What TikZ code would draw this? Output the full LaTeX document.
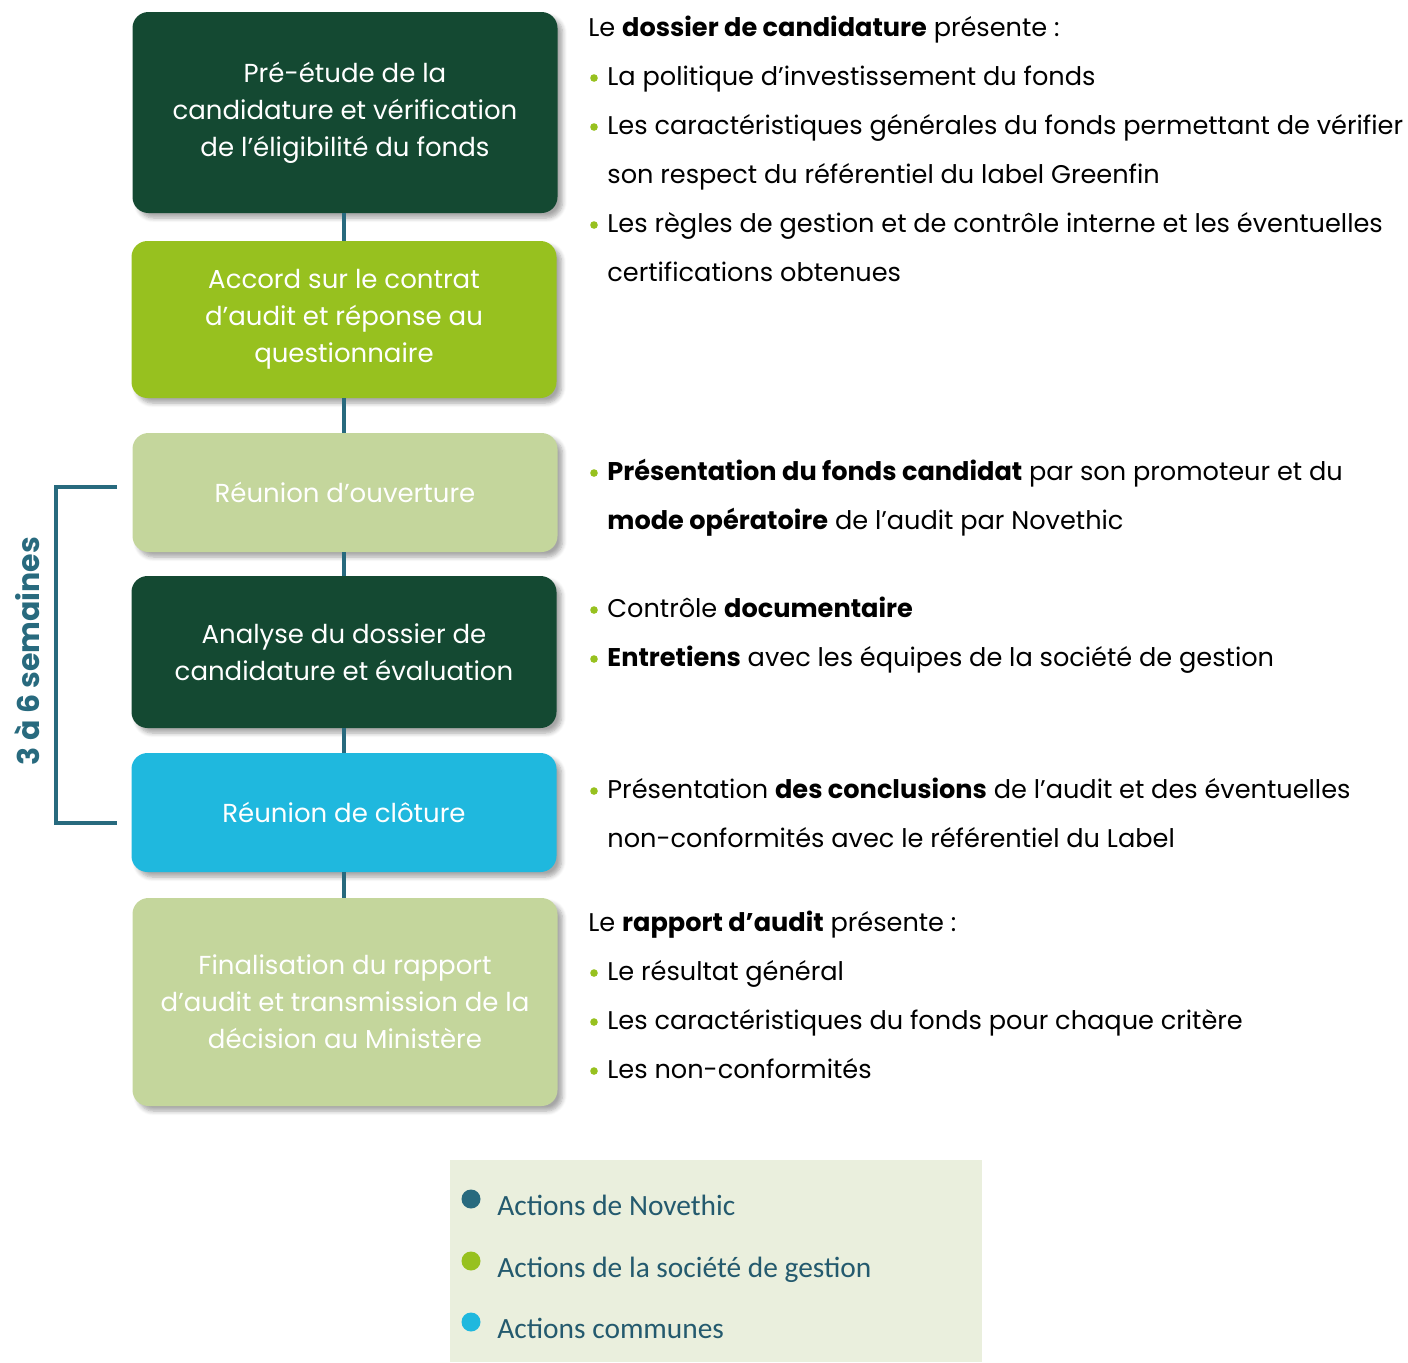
\documentclass[tikz,border=0pt]{standalone}
\usepackage{fontspec}
\setmainfont{Poppins}
\newfontfamily\legfont{Carlito}
\usetikzlibrary{shadows.blur}
\definecolor{dkgreen}{HTML}{144932}
\definecolor{ltgreen}{HTML}{97C11F}
\definecolor{pale}{HTML}{C4D69C}
\definecolor{cyanbox}{HTML}{1FB8DE}
\definecolor{teal}{HTML}{286A7E}
\definecolor{legbg}{HTML}{EAEFDD}
\definecolor{legtxt}{HTML}{245A6E}
\tikzset{
  stepbox/.style={rounded corners=8pt, minimum width=212.5pt, text=white, align=center,
    font=\fontsize{13}{18.5}\selectfont, inner sep=0pt,
    blur shadow={shadow xshift=2.5pt, shadow yshift=-2.5pt, shadow blur steps=6, shadow opacity=35}},
  conn/.style={draw=teal, line width=1.6pt},
  rtxt/.style={anchor=base west, inner sep=0pt, font=\fontsize{12.8}{14}\selectfont},
  bul/.style={fill=ltgreen, circle, inner sep=0pt, minimum size=3.8pt},
  legdot/.style={circle, inner sep=0pt, minimum size=9.5pt},
  legt/.style={anchor=base west, inner sep=0pt, text=legtxt, font=\legfont\fontsize{14.7}{16}\selectfont}
}
\begin{document}
\begin{tikzpicture}[x=0.5pt,y=-0.5pt]
\useasboundingbox (0,0) rectangle (1408,1362);
\coordinate (c0) at (344,112);
% boxes
\node[stepbox, fill=dkgreen, minimum height=100.5pt] (b1) at (345,112.5) {Pré-étude de la\\candidature et vérification\\de l’éligibilité du fonds};
\node[stepbox, fill=ltgreen, minimum height=78.5pt] (b2) at (344,319.5) {Accord sur le contrat\\d’audit et réponse au\\questionnaire};
\node[stepbox, fill=pale, minimum height=59.5pt] (b3) at (345,492.5) {Réunion d’ouverture};
\node[stepbox, fill=dkgreen, minimum height=76pt] (b4) at (344,652) {Analyse du dossier de\\candidature et évaluation};
\node[stepbox, fill=cyanbox, minimum height=59.5pt] (b5) at (344,812.5) {Réunion de clôture};
\node[stepbox, fill=pale, minimum height=104pt] (b6) at (345,1002) {Finalisation du rapport\\d’audit et transmission de la\\décision au Ministère};
\draw[conn] (b1.south -| c0) -- (b2.north -| c0);
\draw[conn] (b2.south -| c0) -- (b3.north -| c0);
\draw[conn] (b3.south -| c0) -- (b4.north -| c0);
\draw[conn] (b4.south -| c0) -- (b5.north -| c0);
\draw[conn] (b5.south -| c0) -- (b6.north -| c0);
% bracket
\coordinate (bt) at (117,487);
\coordinate (bb) at (117,823);
\draw[conn] (bt) -- (56,487) |- (bb);
\node[rotate=90, text=teal, font=\bfseries\fontsize{15}{18}\selectfont, inner sep=0pt] (dur) at (27,651) {3 à 6 semaines};
% right texts
\node[rtxt] (a0) at (588,36) {Le \textbf{dossier de candidature} présente :};
\node[rtxt] (a1) at (607,85) {La politique d’investissement du fonds};
\node[rtxt] (a2) at (607,134) {Les caractéristiques générales du fonds permettant de vérifier};
\node[rtxt] (a3) at (607,183) {son respect du référentiel du label Greenfin};
\node[rtxt] (a4) at (607,232) {Les règles de gestion et de contrôle interne et les éventuelles};
\node[rtxt] (a5) at (607,281) {certifications obtenues};
\node[bul] at (594,78) {};
\node[bul] at (594,127) {};
\node[bul] at (594,225) {};
\node[rtxt] (d1) at (607,480) {\textbf{Présentation du fonds candidat} par son promoteur et du};
\node[rtxt] (d2) at (607,529) {\textbf{mode opératoire} de l’audit par Novethic};
\node[bul] at (594,473) {};
\node[rtxt] (e1) at (607,617) {Contrôle \textbf{documentaire}};
\node[rtxt] (e2) at (607,666) {\textbf{Entretiens} avec les équipes de la société de gestion};
\node[bul] at (594,610) {};
\node[bul] at (594,659) {};
\node[rtxt] (f1) at (607,798) {Présentation \textbf{des conclusions} de l’audit et des éventuelles};
\node[rtxt] (f2) at (607,847) {non-conformités avec le référentiel du Label};
\node[bul] at (594,791) {};
\node[rtxt] (g0) at (588,931) {Le \textbf{rapport d’audit} présente :};
\node[rtxt] (g1) at (607,980) {Le résultat général};
\node[rtxt] (g2) at (607,1029) {Les caractéristiques du fonds pour chaque critère};
\node[rtxt] (g3) at (607,1078) {Les non-conformités};
\node[bul] at (594,973) {};
\node[bul] at (594,1022) {};
\node[bul] at (594,1071) {};
% legend
\fill[legbg] (450,1160) rectangle (982,1362);
\node[legdot, fill=teal] (l1) at (471,1199) {};
\node[legdot, fill=ltgreen] (l2) at (471,1261) {};
\node[legdot, fill=cyanbox] (l3) at (471,1322) {};
\node[legt] (t1) at (497,1215) {Actions de Novethic};
\node[legt] (t2) at (497,1277) {Actions de la société de gestion};
\node[legt] (t3) at (497,1338) {Actions communes};
\end{tikzpicture}
\end{document}
